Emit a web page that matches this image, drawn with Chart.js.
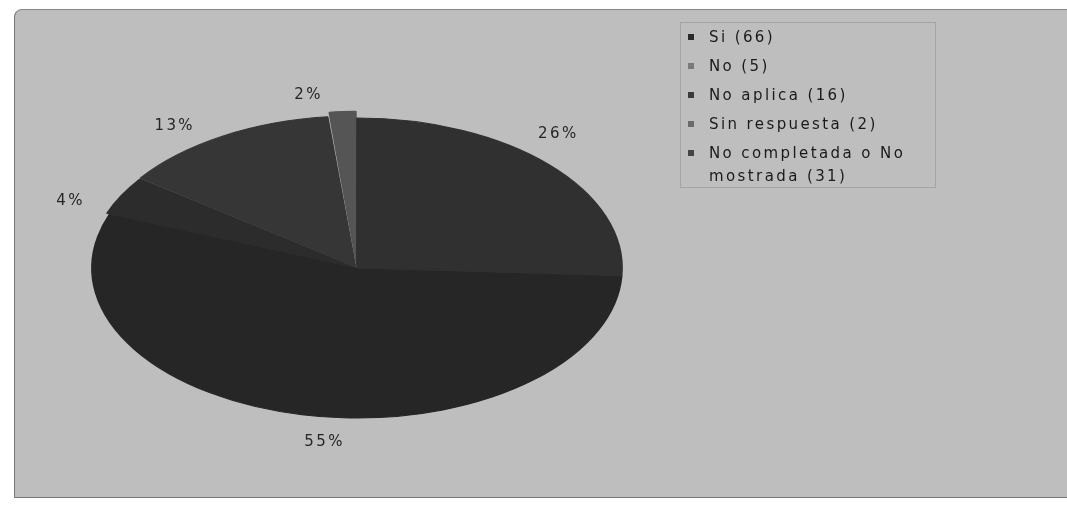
<!DOCTYPE html>
<html><head><meta charset="utf-8">
<script src="https://cdn.jsdelivr.net/npm/chart.js@4/dist/chart.umd.min.js"></script>
<style>
html,body{margin:0;padding:0;background:#fff;width:1067px;height:505px;overflow:hidden;}
#frame{position:absolute;left:14px;top:9px;width:1060px;height:487px;background:#bebebe;border-top-left-radius:8px;border-left:1px solid #777;border-top:1px solid #888;border-bottom:1px solid #777;}
#wrap{position:absolute;left:0;top:0;width:1067px;height:505px;}
#legend{position:absolute;left:680px;top:22px;width:256px;height:166px;border:1px solid #a4a4a4;box-sizing:border-box;padding-top:3px;font-family:'DejaVu Sans',sans-serif;font-size:15px;letter-spacing:2.4px;color:#1a1a1a;}
.item{position:relative;padding-left:28px;padding-right:6px;line-height:23px;margin-bottom:6px;}
.mk{position:absolute;left:7px;top:8px;width:6px;height:6px;}
</style>
</head><body>
<div id="frame"></div>
<div id="wrap"><canvas id="c" width="1067" height="505"></canvas></div>
<div id="legend"></div>
<script>
const categories = ['Si', 'No', 'No aplica', 'Sin respuesta', 'No completada o No mostrada'];
const counts = [66, 5, 16, 2, 31];
const sliceColors = ['#262626', '#2c2c2c', '#363636', '#555555', '#303030'];
const markerColors = ['#2a2a2a', '#7a7a7a', '#3a3a3a', '#6a6a6a', '#444444'];
const sliceOffsets = [0, 4, 7, 14, 0];

const total = counts.reduce((a, b) => a + b, 0);

// legend
const lg = document.getElementById('legend');
categories.forEach((c, i) => {
  const d = document.createElement('div');
  d.className = 'item';
  const m = document.createElement('span');
  m.className = 'mk';
  m.style.background = markerColors[i];
  d.appendChild(m);
  d.appendChild(document.createTextNode(c + ' (' + counts[i] + ')'));
  lg.appendChild(d);
});

const SX = 265 / 150; // horizontal stretch to get the ellipse

const ellipsePlugin = {
  id: 'ellipse',
  beforeDatasetsDraw(chart) {
    const ctx = chart.ctx;
    const a = chart.chartArea;
    const cx = (a.left + a.right) / 2, cy = (a.top + a.bottom) / 2;
    ctx.save();
    ctx.translate(cx, cy);
    ctx.scale(SX, 1);
    ctx.translate(-cx, -cy);
  },
  afterDatasetsDraw(chart) {
    const ctx = chart.ctx;
    ctx.restore();
    const meta = chart.getDatasetMeta(0);
    ctx.save();
    ctx.font = '15px "DejaVu Sans"';
    try { ctx.letterSpacing = '2.4px'; } catch (e) {}
    ctx.fillStyle = '#262626';
    ctx.textAlign = 'center';
    ctx.textBaseline = 'middle';
    const shift = -6 * Math.PI / 180;
    meta.data.forEach((arc, i) => {
      const p = arc.getProps(['x', 'y', 'startAngle', 'endAngle', 'outerRadius'], true);
      const mid = (p.startAngle + p.endAngle) / 2 + shift;
      const f = 1.17;
      const x = p.x + Math.cos(mid) * p.outerRadius * SX * f;
      const y = p.y + Math.sin(mid) * p.outerRadius * f;
      const pct = Math.round(counts[i] / total * 100) + '%';
      ctx.fillText(pct, x, y);
    });
    ctx.restore();
  }
};

new Chart(document.getElementById('c'), {
  type: 'pie',
  data: {
    labels: categories,
    datasets: [{
      data: counts,
      backgroundColor: sliceColors,
      borderColor: sliceColors,
      borderWidth: 1,
      offset: sliceOffsets
    }]
  },
  options: {
    responsive: false,
    animation: false,
    rotation: 93,
    radius: 150,
    layout: { padding: { left: 207, right: 560, top: 118, bottom: 87 } },
    plugins: { legend: { display: false }, tooltip: { enabled: false } }
  },
  plugins: [ellipsePlugin]
});
</script>
</body></html>
